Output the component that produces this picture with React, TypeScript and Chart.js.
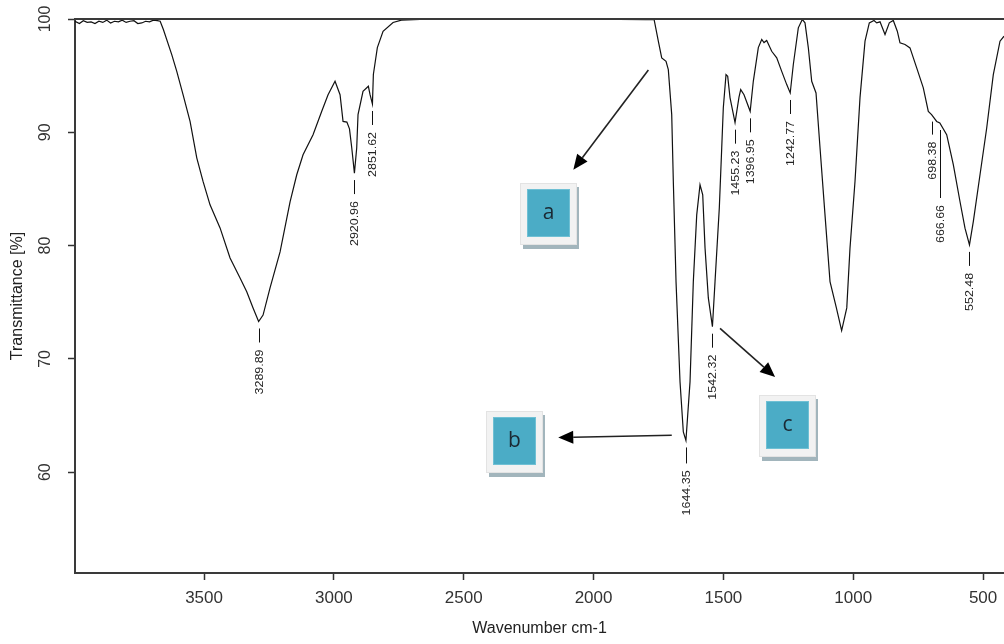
import React, { useEffect, useRef } from "react";
import { Chart, registerables } from "chart.js";

Chart.register(...registerables);

// ---- Spectrum ----
const wavenumbers = [
  3997, 3980, 3965, 3950, 3935, 3920, 3905, 3890, 3875, 3860, 3845, 3830, 3815, 3800, 3785, 3770, 3755, 3740, 3725, 3710, 3695, 3680, 3669,
  3656.7, 3624.4, 3605.1, 3580.9, 3553.9, 3528.1, 3503.9, 3477, 3438.4, 3399.9, 3361.4, 3335.6, 3311.3, 3289.89, 3272.8, 3245.9, 3207.3,
  3168.8, 3143.1, 3118.8, 3080.3, 3046.8, 3022.5, 2995.6, 2976.3, 2964.8, 2950, 2940, 2931.3, 2920.96, 2912.1, 2907.1, 2887.9, 2867.3,
  2860.8, 2851.62, 2848, 2832.7, 2810.7, 2772.2, 2740, 2668, 2500, 2300, 2000, 1800, 1767,
  1750.7, 1737.6, 1721, 1712.2, 1699.1, 1692.9, 1682.5, 1667.1, 1654.4, 1644.35, 1628.6, 1615.9, 1602.8, 1590.1, 1579.7, 1570.8, 1558.1,
  1542.32, 1532.3, 1515.8, 1506.5, 1500.4, 1490, 1483.5, 1474.6, 1455.23, 1440, 1433.4, 1420.7, 1396.95, 1384.9, 1365.6, 1352.5, 1343.7,
  1333.3, 1314, 1294.7, 1275.5, 1256.2, 1242.77, 1230.8, 1211.6, 1196.2, 1185.8, 1173.1, 1160, 1143.4, 1128, 1108.8, 1089.5, 1065,
  1044.72, 1025, 1012.5, 993.3, 974, 954.7, 938.2, 920.1, 909.7, 896.9, 877.7, 861.2, 845.8, 830.4, 820, 800.7, 781.5, 755.7, 730.3, 711,
  698.38, 678.7, 666.66, 640.2, 614.7, 589, 569.7, 552.48, 537.7, 511.9, 486.1, 460.7, 434.9, 419.5,
];
const transmittance = [
  99.8, 99.6, 99.85, 99.7, 99.75, 99.6, 99.8, 99.7, 99.9, 99.65, 99.8, 99.75, 99.9, 99.7, 99.8, 99.85, 99.6, 99.65, 99.8, 99.75, 99.9, 99.85, 99.8,
  99.07, 96.86, 95.38, 93.32, 90.96, 87.75, 85.66, 83.6, 81.56, 78.91, 77.14, 75.93, 74.49, 73.3, 73.87, 76.26, 79.44,
  83.86, 86.25, 88.02, 89.79, 91.85, 93.32, 94.5, 93.32, 90.96, 90.9, 90.3, 88.64, 86.4, 88.64, 91.56, 93.62, 94.06,
  93.32, 92.5, 95.1, 97.48, 98.92, 99.69, 99.9, 99.96, 99.98, 100, 99.98, 99.95, 99.96,
  98.04, 96.57, 96.27, 95.53, 91.56, 85.66, 76.82, 67.97, 63.55, 62.8, 67.97, 76.82, 82.71, 85.37, 84.48, 79.8, 75.38,
  72.84, 76.82, 83.33, 88.64, 92.17, 95.09, 94.94, 93.06, 90.85, 93.1, 93.77, 93.32, 91.85, 94.5, 97.48, 98.19, 97.92,
  98.1, 97.15, 96.57, 95.38, 94.21, 93.47, 95.98, 99.22, 99.96, 99.66, 97.48, 94.5, 93.47, 88.64, 82.71, 76.82, 74.5,
  72.5, 74.5, 79.8, 85.66, 93.06, 98.04, 99.66, 99.87, 99.66, 99.75, 98.63, 99.66, 99.87, 98.92, 97.9, 97.75, 97.45, 95.69, 93.92, 91.85,
  91.56, 90.96, 90.82, 89.79, 87.14, 83.89, 81.54, 80.06, 82.12, 86.25, 90.38, 95.09, 98.04, 98.48,
];

// ---- Axes ----
const xMin = 419.5;
const xMax = 3997;
const yMin = 51.1;
const yMax = 100;
const xTickValues = [3500, 3000, 2500, 2000, 1500, 1000, 500];
const yTickValues = [100, 90, 80, 70, 60];
const xTitle = "Wavenumber cm-1";
const yTitle = "Transmittance [%]";

// ---- Peak labels ----
const peakWavenumbers = [3289.89, 2920.96, 2851.62, 1644.35, 1542.32, 1455.23, 1396.95, 1242.77, 698.38, 666.66, 552.48];
const peakTransmittance = [73.3, 86.4, 92.5, 62.8, 72.84, 90.85, 91.85, 93.47, 91.56, 90.82, 80.06];
const peakLabels = ["3289.89", "2920.96", "2851.62", "1644.35", "1542.32", "1455.23", "1396.95", "1242.77", "698.38", "666.66", "552.48"];
const peakLeaderLengths = [14, 14, 14, 16, 14, 14, 14, 14, 13, 68, 14];

// ---- Callout boxes and arrows ----
const boxLetters = ["a", "b", "c"];
const boxWavenumbers = [2175, 2305, 1255];
const boxTransmittance = [82.8, 62.64, 64.1];
const arrowFromWavenumbers = [1789, 1699, 1513];
const arrowFromTransmittance = [95.5, 63.26, 72.7];
const arrowToWavenumbers = [2078, 2136, 1301];
const arrowToTransmittance = [86.7, 63.06, 68.4];

const FONT = '"Liberation Sans", Arial, sans-serif';

const annotationPlugin = {
  id: "ftirAnnotations",
  afterDraw(chart: any) {
    const { ctx, chartArea, scales } = chart;
    const x = scales.x;
    const y = scales.y;
    ctx.save();

    // top frame line
    ctx.strokeStyle = "#3a3a3a";
    ctx.lineWidth = 2;
    ctx.beginPath();
    ctx.moveTo(chartArea.left - 1, chartArea.top);
    ctx.lineTo(chartArea.right, chartArea.top);
    ctx.stroke();

    // y tick labels (rotated)
    ctx.fillStyle = "#333";
    ctx.font = `16px ${FONT}`;
    ctx.textAlign = "center";
    ctx.textBaseline = "middle";
    yTickValues.forEach((v) => {
      const py = y.getPixelForValue(v);
      ctx.save();
      ctx.translate(chartArea.left - 29, py);
      ctx.rotate(-Math.PI / 2);
      ctx.fillText(String(v), 0, 0);
      ctx.restore();
    });

    // peak labels
    ctx.strokeStyle = "#111";
    ctx.lineWidth = 1;
    ctx.fillStyle = "#222";
    ctx.font = `11px ${FONT}`;
    peakWavenumbers.forEach((w, i) => {
      const px = Math.round(x.getPixelForValue(w)) + 0.5;
      const py = y.getPixelForValue(peakTransmittance[i]);
      const y0 = py + 7;
      const y1 = y0 + peakLeaderLengths[i];
      ctx.beginPath();
      ctx.moveTo(px, y0);
      ctx.lineTo(px, y1);
      ctx.stroke();
      ctx.save();
      ctx.translate(px, y1 + 7);
      ctx.rotate(-Math.PI / 2);
      ctx.scale(1.13, 1);
      ctx.textAlign = "right";
      ctx.textBaseline = "middle";
      ctx.fillText(peakLabels[i], 0, 0);
      ctx.restore();
    });

    // callout boxes
    const bw = 57;
    const bh = 62;
    boxLetters.forEach((letter, i) => {
      const cx = x.getPixelForValue(boxWavenumbers[i]);
      const cy = y.getPixelForValue(boxTransmittance[i]);
      const left = Math.round(cx - bw / 2);
      const top = Math.round(cy - bh / 2);
      ctx.fillStyle = "#a2b5bc";
      ctx.fillRect(left + 3, top + 4, bw - 1, bh);
      ctx.fillStyle = "#f2f2f2";
      ctx.fillRect(left, top, bw, bh);
      ctx.strokeStyle = "#e3e3e3";
      ctx.lineWidth = 1;
      ctx.strokeRect(left + 0.5, top + 0.5, bw - 1, bh - 1);
      ctx.fillStyle = "#4bacc6";
      ctx.fillRect(left + 7, top + 6, bw - 14, bh - 14);
      ctx.strokeStyle = "#6fc0d4";
      ctx.strokeRect(left + 7.5, top + 6.5, bw - 15, bh - 15);
      ctx.fillStyle = "#1b2933";
      ctx.font = '21px "Open Sans", "Noto Sans", sans-serif';
      ctx.textAlign = "center";
      ctx.textBaseline = "middle";
      ctx.fillText(letter, left + bw / 2, top + 6 + (bh - 14) / 2);
    });

    // arrows
    arrowFromWavenumbers.forEach((w, i) => {
      const x0 = x.getPixelForValue(w);
      const y0 = y.getPixelForValue(arrowFromTransmittance[i]);
      const x1 = x.getPixelForValue(arrowToWavenumbers[i]);
      const y1 = y.getPixelForValue(arrowToTransmittance[i]);
      const ang = Math.atan2(y1 - y0, x1 - x0);
      const headLen = 15;
      const headHalf = 6.5;
      const bx = x1 - headLen * Math.cos(ang);
      const by = y1 - headLen * Math.sin(ang);
      ctx.strokeStyle = "#222";
      ctx.lineWidth = 1.6;
      ctx.beginPath();
      ctx.moveTo(x0, y0);
      ctx.lineTo(bx, by);
      ctx.stroke();
      ctx.fillStyle = "#000";
      ctx.beginPath();
      ctx.moveTo(x1, y1);
      ctx.lineTo(bx + headHalf * Math.sin(ang), by - headHalf * Math.cos(ang));
      ctx.lineTo(bx - headHalf * Math.sin(ang), by + headHalf * Math.cos(ang));
      ctx.closePath();
      ctx.fill();
    });

    ctx.restore();
  },
};

export default function App() {
  const canvasRef = useRef<HTMLCanvasElement | null>(null);

  useEffect(() => {
    const canvas = canvasRef.current;
    if (!canvas) return;
    const points = wavenumbers.map((w, i) => ({ x: w, y: transmittance[i] }));
    const chart = new Chart(canvas, {
      type: "line",
      data: {
        datasets: [
          {
            label: "Transmittance",
            data: points,
            borderColor: "#111",
            borderWidth: 1.2,
            pointRadius: 0,
            tension: 0,
            fill: false,
          },
        ],
      },
      options: {
        animation: false,
        responsive: false,
        devicePixelRatio: 1,
        layout: { padding: { top: 19, right: 0, bottom: 0, left: 0 } },
        plugins: { legend: { display: false }, tooltip: { enabled: false }, title: { display: false } },
        scales: {
          x: {
            type: "linear",
            reverse: true,
            min: xMin,
            max: xMax,
            afterBuildTicks: (s: any) => {
              s.ticks = xTickValues.slice().sort((a, b) => a - b).map((v) => ({ value: v }));
            },
            afterFit: (s: any) => {
              s.height = 71;
            },
            grid: {
              display: true,
              drawOnChartArea: false,
              drawTicks: true,
              tickLength: 7,
              tickWidth: 1.5,
              tickColor: "#333",
            },
            border: { display: true, color: "#3a3a3a", width: 2 },
            ticks: {
              autoSkip: false,
              maxRotation: 0,
              minRotation: 0,
              padding: 8,
              color: "#333",
              font: { family: FONT, size: 17 },
              callback: (v: any) => String(v),
            },
            title: {
              display: true,
              text: xTitle,
              color: "#222",
              font: { family: FONT, size: 16 },
              padding: { top: 0, bottom: 6 },
            },
          },
          y: {
            type: "linear",
            min: yMin,
            max: yMax,
            afterBuildTicks: (s: any) => {
              s.ticks = yTickValues.slice().sort((a, b) => a - b).map((v) => ({ value: v }));
            },
            afterFit: (s: any) => {
              s.width = 75;
            },
            grid: {
              display: true,
              drawOnChartArea: false,
              drawTicks: true,
              tickLength: 7,
              tickWidth: 1.5,
              tickColor: "#333",
            },
            border: { display: true, color: "#3a3a3a", width: 2 },
            ticks: { display: false },
            title: {
              display: true,
              text: yTitle,
              color: "#222",
              font: { family: FONT, size: 16 },
              padding: { top: 8, bottom: 0 },
            },
          },
        },
      },
      plugins: [annotationPlugin],
    });
    return () => chart.destroy();
  }, []);

  return (
    <div style={{ position: "fixed", left: 0, top: 0, width: 1004, height: 644, background: "#fff" }}>
      <canvas ref={canvasRef} width={1004} height={644} style={{ display: "block" }} />
    </div>
  );
}
